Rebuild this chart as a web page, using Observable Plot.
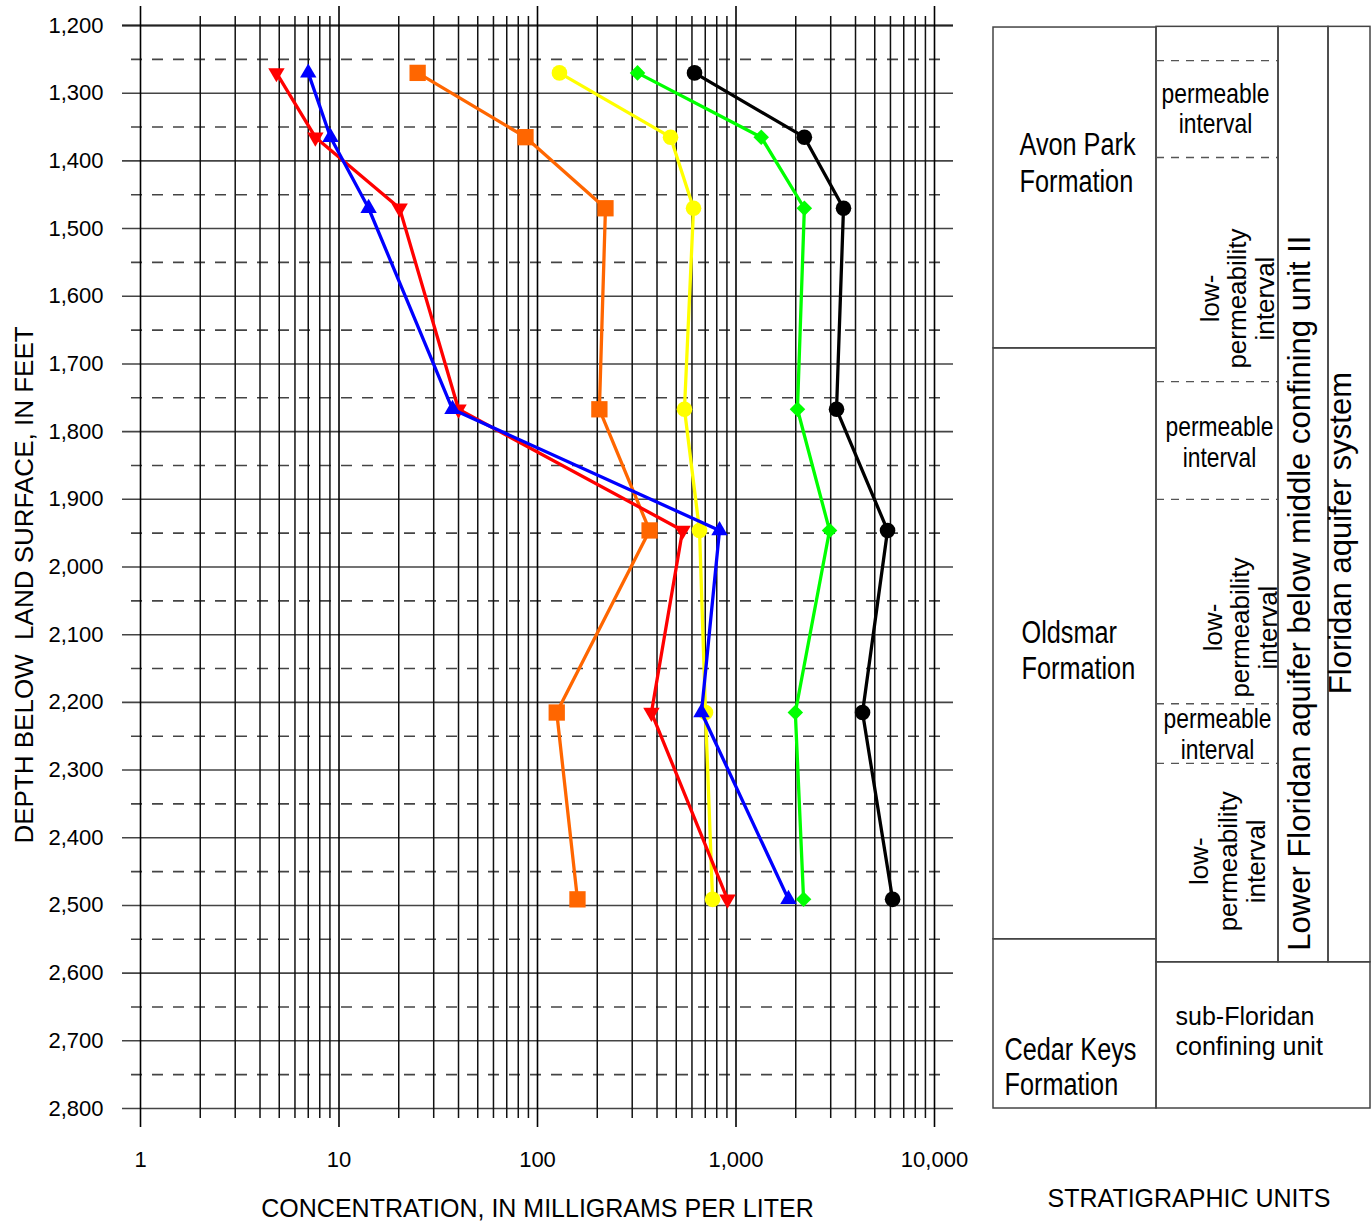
<!DOCTYPE html>
<html>
<head>
<meta charset="utf-8">
<script src="https://cdn.jsdelivr.net/npm/d3@7"></script>
<script src="https://cdn.jsdelivr.net/npm/@observablehq/plot@0.6"></script>
<style>
  body { margin: 0; background: #fff; }
  #wrap { position: relative; width: 1372px; height: 1224px; background: #fff; overflow: hidden; }
  #chart { position: absolute; left: 0; top: 0; width: 980px; }
  #strat { position: absolute; left: 980px; top: 0; width: 392px; }
</style>
</head>
<body>
<div id="wrap"><div id="chart"></div><div id="strat"></div></div>
<script>
// ---------- data ----------
const depths = [1270, 1365, 1470, 1767, 1946, 2215, 2491];
const blackValues  = [618, 2210, 3480, 3210, 5800, 4340, 6150];
const greenValues  = [319, 1340, 2210, 2040, 2960, 1990, 2190];
const orangeValues = [24.9, 87, 220, 205, 367, 125, 159];
const yellowValues = [129, 468, 611, 550, 655, 702, 762];
const redValues    = [4.84, 7.6, 20.2, 40, 538, 375, 906];
const blueValues   = [7.0, 9.06, 14.1, 37.3, 826, 670, 1838];

const xTicks = [1, 10, 100, 1000, 10000];
const yTicks = [1200, 1300, 1400, 1500, 1600, 1700, 1800, 1900, 2000, 2100, 2200, 2300, 2400, 2500, 2600, 2700, 2800];
const xLabel = "CONCENTRATION, IN MILLIGRAMS PER LITER";
const yLabel = "DEPTH BELOW\u00a0 LAND SURFACE, IN FEET";
const panelLabel = "STRATIGRAPHIC UNITS";

const formations = [
  {id: "avon", name: "Avon Park\nFormation", top: 1203, bottom: 1677},
  {id: "oldsmar", name: "Oldsmar\nFormation", top: 1677, bottom: 2550},
  {id: "cedar", name: "Cedar Keys\nFormation", top: 2550, bottom: 2800}
];
const intervals = [
  {id: "i0", name: "", top: 1202, bottom: 1252},
  {id: "p1", name: "permeable\ninterval", top: 1252, bottom: 1395},
  {id: "l1", name: "low-\npermeability\ninterval", top: 1395, bottom: 1726},
  {id: "p2", name: "permeable\ninterval", top: 1726, bottom: 1900},
  {id: "l2", name: "low-\npermeability\ninterval", top: 1900, bottom: 2202},
  {id: "p3", name: "permeable\ninterval", top: 2202, bottom: 2290},
  {id: "l3", name: "low-\npermeability\ninterval", top: 2290, bottom: 2584}
];
const hydroUnits = [
  {id: "lower", name: "Lower Floridan aquifer below middle confining unit II", top: 1202, bottom: 2584},
  {id: "system", name: "Floridan aquifer system", top: 1202, bottom: 2584},
  {id: "sub", name: "sub-Floridan\nconfining unit", top: 2584, bottom: 2800}
];

// ---------- styles / layout ----------
const triangleDown = {
  draw(context, size) {
    const y = -Math.sqrt(size / (Math.sqrt(3) * 3));
    context.moveTo(0, -y * 2);
    context.lineTo(-Math.sqrt(3) * y, y);
    context.lineTo(Math.sqrt(3) * y, y);
    context.closePath();
  }
};
const seriesDefs = [
  {values: blackValues,  color: "#000000", symbol: "circle",   r: 7.8},
  {values: greenValues,  color: "#00ff00", symbol: "diamond2", r: 7},
  {values: orangeValues, color: "#ff6600", symbol: "square",   r: 9.2},
  {values: yellowValues, color: "#ffff00", symbol: "circle",   r: 7.8},
  {values: redValues,    color: "#ff0000", symbol: triangleDown, r: 6.1},
  {values: blueValues,   color: "#0000ff", symbol: "triangle", r: 6.1}
];

const font = "'Liberation Sans', Arial, sans-serif";
const narrow = "'Liberation Sans Narrow', 'Liberation Sans', Arial, sans-serif";
const narrowScale = 0.815;

const minorX = [];
for (const d of [1, 10, 100, 1000]) for (let k = 2; k <= 9; k++) minorX.push(d * k);
const dashedY = yTicks.slice(0, -1).map(v => v + 50);

const seriesMarks = seriesDefs.flatMap(s => {
  const rows = depths.map((d, i) => ({depth: d, value: s.values[i]}));
  return [
    Plot.line(rows, {x: "value", y: "depth", stroke: s.color, strokeWidth: 3.3}),
    Plot.dot(rows, {x: "value", y: "depth", fill: s.color, stroke: "none", symbol: s.symbol, r: s.r})
  ];
});

const chart = Plot.plot({
  width: 980, height: 1224,
  marginLeft: 140, marginRight: 46, marginTop: 25, marginBottom: 116,
  x: {type: "log", domain: [1, 10000]},
  y: {domain: [1200, 2800], reverse: true},
  style: {fontFamily: font, fontSize: "22px", color: "#000", background: "#fff", overflow: "visible"},
  marks: [
    Plot.ruleY(dashedY, {stroke: "#444", strokeWidth: 1.6, strokeDasharray: "11,10", insetLeft: -9, insetRight: -11}),
    Plot.ruleY(yTicks, {stroke: "#444", strokeWidth: 1.6, insetLeft: -18, insetRight: -19}),
    Plot.ruleY([1200], {stroke: "#222", strokeWidth: 2, insetLeft: -18, insetRight: -19}),
    Plot.ruleX(minorX, {stroke: "#111", strokeWidth: 1.5, insetTop: -9, insetBottom: -10}),
    Plot.ruleX(xTicks, {stroke: "#000", strokeWidth: 1.6, insetTop: -19, insetBottom: -19}),
    Plot.axisY({ticks: yTicks, tickFormat: d3.format(","), tickSize: 0, tickPadding: 37, label: null}),
    Plot.axisX({ticks: xTicks, tickFormat: d3.format(","), tickSize: 0, tickPadding: 43, label: null}),
    ...seriesMarks,
    Plot.text([yLabel], {frameAnchor: "left", textAnchor: "middle", lineAnchor: "middle", rotate: -90, dx: -116, dy: 18, fontSize: 26}),
    Plot.text([xLabel], {frameAnchor: "bottom", textAnchor: "middle", lineAnchor: "middle", dy: 100, fontSize: 25})
  ]
});
document.getElementById("chart").append(chart);

// ---------- stratigraphic panel ----------
const cols = {c1: [0, 163], c2: [163, 285], c3: [285, 335], c4: [335, 377], c24: [163, 377]};
const labelLayout = {
  avon:    {col: "c1", dx: -55.5, dy: -26, textAnchor: "start", fontFamily: narrow, fontSize: 31, lineHeight: 1.18},
  oldsmar: {col: "c1", dx: -53.5, dy: 5.5, textAnchor: "start", fontFamily: narrow, fontSize: 31, lineHeight: 1.16},
  cedar:   {col: "c1", dx: -70.5, dy: 42, textAnchor: "start", fontFamily: narrow, fontSize: 31, lineHeight: 1.13},
  p1: {col: "c2", dx: -2, dy: -1, fontFamily: narrow, fontSize: 28, lineHeight: 1.1},
  p2: {col: "c2", dx: 2, dy: 1.5, fontFamily: narrow, fontSize: 28, lineHeight: 1.1},
  p3: {col: "c2", dx: 0, dy: 0, fontFamily: narrow, fontSize: 28, lineHeight: 1.1},
  l1: {col: "c2", dx: 20, dy: 29, rotate: -90, fontFamily: font, fontSize: 26, lineHeight: 1.06},
  l2: {col: "c2", dx: 23, dy: 26, rotate: -90, fontFamily: font, fontSize: 26, lineHeight: 1.06},
  l3: {col: "c2", dx: 10, dy: -1.5, rotate: -90, fontFamily: font, fontSize: 26, lineHeight: 1.08},
  lower:  {col: "c3", dx: -3, dy: 98.5, rotate: -90, fontFamily: font, fontSize: 31},
  system: {col: "c4", dx: -8, dy: 38.5, rotate: -90, fontFamily: font, fontSize: 31},
  sub:    {col: "c24", dx: -88, dy: -5, textAnchor: "start", fontFamily: font, fontSize: 25, lineHeight: 1.2}
};
const border = {fill: "none", stroke: "#444", strokeWidth: 1.5};
const boxMarks = [
  Plot.rect(formations, {x1: () => cols.c1[0], x2: () => cols.c1[1], y1: "top", y2: "bottom", ...border}),
  Plot.rect([intervals[0]], {x1: () => cols.c2[0], x2: () => cols.c2[1], y1: "top", y2: () => intervals[intervals.length - 1].bottom, ...border}),
  Plot.ruleY(intervals.slice(1), {y: "top", x1: () => cols.c2[0], x2: () => cols.c2[1], stroke: "#555", strokeWidth: 1.3, strokeDasharray: "8,7"}),
  Plot.rect([hydroUnits[0]], {x1: () => cols.c3[0], x2: () => cols.c3[1], y1: "top", y2: "bottom", ...border}),
  Plot.rect([hydroUnits[1]], {x1: () => cols.c4[0], x2: () => cols.c4[1], y1: "top", y2: "bottom", ...border}),
  Plot.rect([hydroUnits[2]], {x1: () => cols.c24[0], x2: () => cols.c24[1], y1: "top", y2: "bottom", ...border})
];
const allUnits = [...formations, ...intervals.filter(d => d.name), ...hydroUnits];
const textMarks = allUnits.map(u => {
  const L = labelLayout[u.id];
  const c = cols[L.col];
  const {col, ...opts} = L;
  return Plot.text([u], {
    x: () => (c[0] + c[1]) / 2, y: d => (d.top + d.bottom) / 2, text: "name",
    textAnchor: "middle", lineAnchor: "middle", fill: "#000", ...opts
  });
});
const strat = Plot.plot({
  width: 392, height: 1224,
  marginLeft: 13, marginRight: 2, marginTop: 25, marginBottom: 116,
  x: {domain: [0, 377], axis: null},
  y: {domain: [1200, 2800], reverse: true, axis: null},
  style: {fontFamily: font, fontSize: "25px", color: "#000", background: "#fff", overflow: "visible"},
  marks: [
    ...boxMarks,
    ...textMarks,
    Plot.text([panelLabel], {frameAnchor: "bottom", textAnchor: "middle", lineAnchor: "middle", dx: 7, dy: 90, fontSize: 25, fontFamily: font})
  ]
});
// condensed lettering (no narrow face installed): compress the glyphs horizontally about their anchor
strat.querySelectorAll('g[font-family*="Narrow"] text').forEach(t => {
  const tr = t.getAttribute("transform") || "";
  t.setAttribute("transform", `${tr} scale(${narrowScale},1)`);
});
document.getElementById("strat").append(strat);
</script>
</body>
</html>
